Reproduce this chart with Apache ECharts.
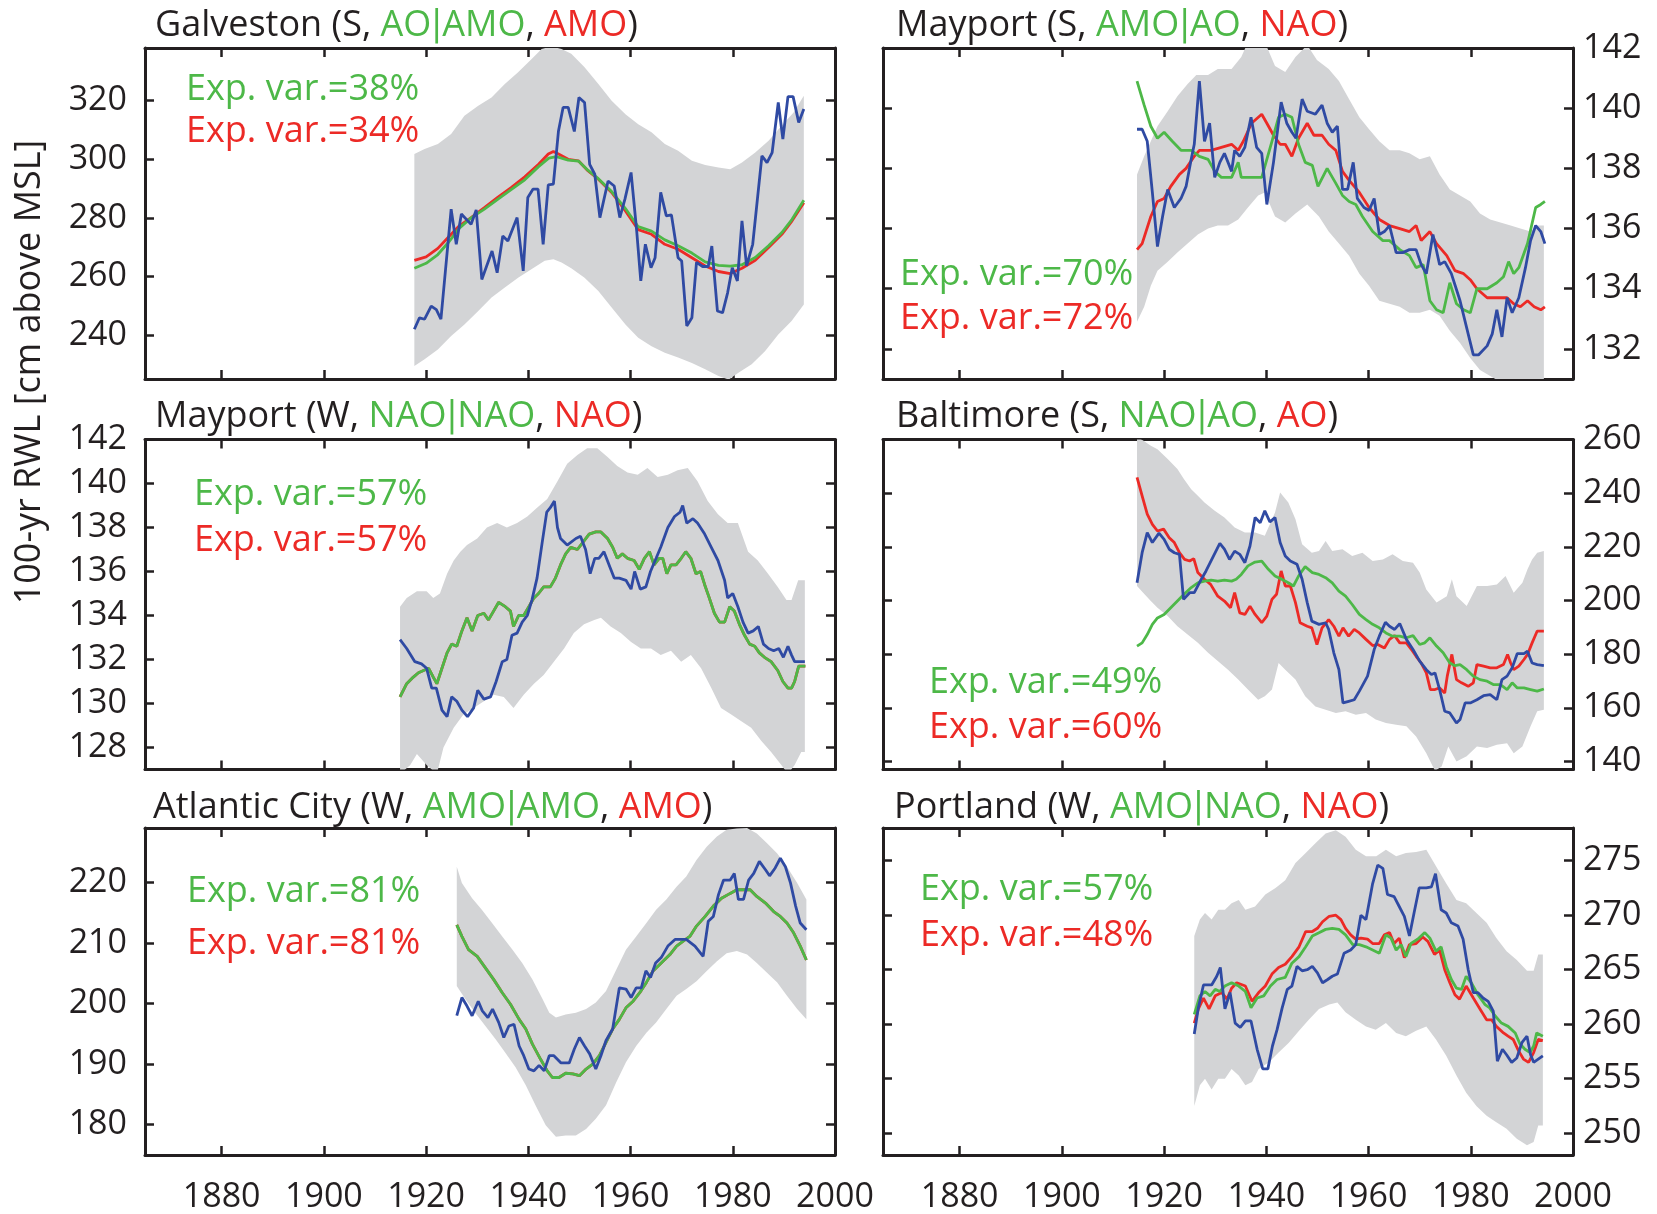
<!DOCTYPE html>
<html>
<head>
<meta charset="utf-8">
<script src="https://cdn.jsdelivr.net/npm/echarts@6/dist/echarts.min.js"></script>
<style>
  html, body { margin: 0; padding: 0; background: #ffffff; }
  #chart { width: 1657px; height: 1214px; }
</style>
</head>
<body>
<div id="chart"></div>
<script>
// ---------- shared axis ticks ----------
const yearTicks = [1880, 1900, 1920, 1940, 1960, 1980, 2000];
const galvTicks = [240, 260, 280, 300, 320];
const msTicks = [132, 134, 136, 138, 140, 142];
const mwTicks = [128, 130, 132, 134, 136, 138, 140, 142];
const baltTicks = [140, 160, 180, 200, 220, 240, 260];
const acTicks = [180, 190, 200, 210, 220];
const portTicks = [250, 255, 260, 265, 270, 275];

// ---------- Galveston (S) ----------
const galvObs = [[1917.7,242],[1918.7,245.9],[1919.7,245.4],[1921,249.9],[1922,248.7],[1922.9,245.4],[1924.9,283],[1925.9,271],[1926.9,281.3],[1928.8,277.8],[1929.8,282.7],[1930.9,259],[1932.9,268.7],[1933.9,261.3],[1935,273.8],[1936,272.1],[1937.8,280.1],[1939,261.9],[1939.9,287],[1940.9,289.8],[1941.9,289.8],[1942.9,271],[1943.9,291.3],[1944.9,291.5],[1945.9,309.7],[1946.8,317.7],[1947.8,317.7],[1949,309.5],[1949.9,321.1],[1951,319.4],[1952,298.3],[1953,294.9],[1954,280.1],[1955.6,292.6],[1956.8,290.9],[1957.9,280.1],[1958.9,286.4],[1960.1,295.5],[1961.2,275.6],[1962,258.5],[1962.9,271],[1964,263],[1964.8,266.4],[1965.9,288.7],[1967,280.7],[1968,281],[1969.3,266.4],[1970,265.3],[1971,243.1],[1972,245.9],[1972.9,264.8],[1974.1,263.4],[1975.2,263.4],[1975.9,270.4],[1977,248.2],[1978,247.6],[1979,254.5],[1979.9,263],[1980.9,258.5],[1981.8,279],[1982.7,263.6],[1983.9,271],[1985.7,301.2],[1986.7,298.9],[1987.7,302.3],[1988.9,319.4],[1989.8,306.9],[1990.8,321.4],[1991.8,321.4],[1992.9,312.6],[1993.9,317.2]];
const galvRed = [[1917.7,265.5],[1920,266.7],[1922.3,269.6],[1924.3,273.3],[1926.5,277.3],[1928.8,280.1],[1931.4,283.5],[1934,287],[1936.7,290.4],[1939.3,294],[1942,298.3],[1943.9,301.8],[1944.9,302.7],[1945.9,301.8],[1947.8,300],[1949.8,299.5],[1951.7,296],[1953.7,293.2],[1956.3,288.7],[1959,282.4],[1961.5,276],[1964.1,274.4],[1966.7,271],[1969.3,269.3],[1972,266.4],[1974.6,263.6],[1977.2,261.7],[1979.5,261],[1981.8,262.8],[1984.4,265.5],[1987,269.9],[1989.6,274.4],[1991.6,279],[1993.9,285.2]];
const galvGreen = [[1917.7,262.8],[1920,264.5],[1922.3,267.5],[1924.3,271.5],[1926.5,276.5],[1928.8,280],[1931.4,283],[1934,286.3],[1936.7,289.7],[1939.3,293],[1942,297.5],[1944,300.4],[1945.5,300.9],[1947.8,299.7],[1949.8,299.4],[1951.7,296.2],[1953.7,293.4],[1956.3,289],[1959,283.2],[1961.5,277],[1964.1,275.5],[1966.7,272.5],[1969.3,270.5],[1972,268],[1974.6,265],[1977.2,263.8],[1979.5,263.5],[1981.8,264],[1984.4,266.5],[1987,270.5],[1989.6,275],[1991.6,279.5],[1993.9,286]];
const galvUpper = [[1917.7,301.8],[1919.7,303.5],[1922.3,305.2],[1924.9,308.6],[1927.5,314.9],[1930.2,318.3],[1932.8,321.1],[1935.4,325.7],[1938,329.7],[1940.6,334.2],[1942.6,337.7],[1944.5,338.5],[1946.5,337.7],[1948.4,336],[1951,331.4],[1953.7,325.7],[1956.3,320],[1959,315.4],[1961.5,312],[1964.1,309.2],[1966.7,305.2],[1969.3,302.9],[1972,299.5],[1974.6,298.1],[1977.2,297.2],[1979.5,296.6],[1981.8,298.9],[1984.4,302.3],[1987,306.3],[1989.6,311.5],[1991.9,316],[1993.9,321.7]];
const galvLower = [[1917.7,229.4],[1919.7,231.7],[1922.3,235.1],[1924.9,239.7],[1927.5,243.6],[1930.2,248.2],[1932.8,252.8],[1935.4,256.2],[1938,259.6],[1940.6,262.5],[1943.2,265.4],[1944.9,265.9],[1946.5,264.8],[1948.4,262.8],[1951,259.6],[1953.7,255],[1956.3,249.4],[1959,243.6],[1961.5,239.1],[1964.1,236.2],[1966.7,234],[1969.3,232.3],[1972,230.5],[1974.6,228.3],[1977.2,226],[1979.2,224.8],[1981.1,227.1],[1983.7,230],[1986.3,234.5],[1988.9,240.2],[1991.5,244.8],[1993.9,250.4]];

// ---------- Mayport (S) ----------
const msObs = [[1914.7,139.3],[1915.7,139.3],[1916.7,138.9],[1917.7,137.2],[1918.7,135.4],[1919.7,136.4],[1920.7,137.3],[1922,136.7],[1923.3,137],[1924.3,137.4],[1925.3,138.3],[1925.9,138.8],[1926.9,140.9],[1927.9,138.9],[1928.9,139.5],[1929.9,137.7],[1930.9,138.2],[1931.8,138.5],[1933.2,137.9],[1933.8,138.6],[1934.8,138.4],[1935.8,138.7],[1937,139.7],[1938.1,138.7],[1939.1,138.5],[1940.1,136.8],[1941.4,138.2],[1942.9,140.2],[1944,139.5],[1945,139.2],[1945.8,139],[1947,140.3],[1948,139.9],[1949.6,139.8],[1950.9,140.1],[1951.9,139.5],[1952.9,139.2],[1953.9,139.4],[1954.9,137.3],[1955.9,137.3],[1957,138.2],[1957.8,137],[1959.1,136.7],[1960.1,136.6],[1961.1,137],[1962.1,135.8],[1963.1,135.9],[1964.1,136.1],[1965.4,135.2],[1966.7,135.2],[1968,135.3],[1969.3,135.3],[1970.3,134.8],[1971.3,134.5],[1972.6,135.8],[1973.9,134.8],[1974.9,134.9],[1976.2,134.5],[1977.9,133.6],[1979.2,132.7],[1980.5,131.8],[1981.5,131.8],[1983.2,132.1],[1984.2,132.5],[1985.1,133.3],[1986.1,132.4],[1987.1,133.7],[1988.1,133.2],[1989.4,133.7],[1990.7,134.7],[1991.7,135.6],[1992.7,136.1],[1993.7,135.9],[1994.5,135.5]];
const msRed = [[1914.7,135.3],[1915.7,135.5],[1917.4,136.4],[1918.7,136.9],[1920,137],[1921.3,137.4],[1923,137.8],[1924.3,138],[1925.9,138.4],[1926.9,138.6],[1929.2,138.6],[1931.2,138.7],[1933.2,138.8],[1934.5,138.6],[1935.5,138.9],[1937.1,139.5],[1939.1,139.8],[1940.1,139.5],[1941.4,139.1],[1942.7,138.8],[1943.7,138.8],[1945,138.4],[1946.3,139],[1948,139.5],[1949.3,139.1],[1950.9,139.1],[1952.2,138.8],[1953.6,138.6],[1954.9,137.9],[1956.2,137.6],[1958.2,137.2],[1960.1,136.7],[1962.1,136.3],[1964.1,136.1],[1966.1,136],[1968,135.9],[1969.3,136.1],[1970.3,135.6],[1972,135.9],[1973.3,135.5],[1975.3,135.1],[1976.9,134.6],[1978.6,134.5],[1979.9,134.3],[1981.2,134],[1983.2,133.7],[1985.1,133.7],[1987.1,133.7],[1988.4,133.5],[1989.7,133.4],[1991.1,133.6],[1992.4,133.4],[1993.7,133.3],[1994.5,133.4]];
const msGreen = [[1914.7,140.9],[1916.1,140.1],[1917.4,139.4],[1918.7,139],[1920,139.2],[1921.6,138.9],[1923.3,138.6],[1925.3,138.6],[1926.9,138.4],[1928.6,138.3],[1929.9,137.9],[1931.2,137.7],[1933.2,137.7],[1934.5,138.2],[1935.1,137.7],[1936.8,137.7],[1939.1,137.7],[1941.1,138.9],[1942.4,139.7],[1943.7,139.8],[1945,139.7],[1946.3,138.8],[1947.6,138.2],[1949,138.1],[1950.1,137.4],[1951.9,138],[1953.6,137.5],[1954.9,137.1],[1956.2,136.9],[1957.5,136.8],[1958.8,136.4],[1960.8,135.9],[1962.8,135.6],[1964.1,135.6],[1966.1,135.3],[1968,135.1],[1969.3,134.7],[1970.7,134.8],[1972,133.6],[1973.3,133.3],[1974.6,133.2],[1975.9,134.2],[1977.2,133.5],[1978.6,133.3],[1979.9,133.2],[1981.2,134],[1983.2,134],[1985.1,134.2],[1986.4,134.4],[1987.4,134.9],[1988.4,134.5],[1989.4,134.7],[1991.1,135.5],[1992.7,136.7],[1993.7,136.8],[1994.5,136.9]];
const msUpper = [[1914.7,137.8],[1916.1,138.4],[1917.4,138.9],[1918.7,139.4],[1920.7,139.9],[1922.6,140.4],[1924.6,140.8],[1926.3,141.1],[1928.6,141.1],[1930.5,141.3],[1933.2,141.3],[1935.1,141.7],[1936.4,142.2],[1939.7,142.2],[1941.7,141.4],[1943.7,141.2],[1945.7,141.7],[1948,142.1],[1949.9,141.6],[1952.2,141.3],[1954.2,140.9],[1956.2,140.3],[1958.2,139.7],[1960.1,139.3],[1962.1,138.9],[1964.1,138.6],[1966.1,138.6],[1968,138.5],[1970,138.3],[1972,138.4],[1973.9,137.8],[1975.9,137.3],[1977.9,137.1],[1979.9,136.9],[1981.8,136.5],[1983.8,136.3],[1985.8,136.2],[1987.8,136.1],[1989.7,136],[1991.7,135.9],[1993.1,136.1],[1994.3,136.1]];
const msLower = [[1914.7,132.9],[1916.1,133.4],[1917.4,134.1],[1918.7,134.6],[1920.7,134.9],[1922.6,135.2],[1924.6,135.5],[1926.6,135.8],[1928.6,136],[1930.5,136.1],[1932.5,136.1],[1934.5,136.3],[1936.4,136.7],[1938.4,137.1],[1939.7,137.2],[1941.7,136.4],[1943.7,136.2],[1945.7,136.5],[1948,136.8],[1950.3,136.4],[1952.2,135.9],[1954.2,135.5],[1956.2,135.1],[1958.2,134.5],[1960.1,134.1],[1962.1,133.6],[1964.1,133.5],[1966.1,133.4],[1968,133.2],[1970,133.2],[1972,133.3],[1973.9,133.1],[1975.9,132.6],[1977.9,132.2],[1979.9,131.7],[1981.8,131.3],[1983.8,131.1],[1985.8,130.9],[1987.8,130.8],[1991.1,130.8],[1994.3,130.8]];

// ---------- Mayport (W) ----------
const mwObs = [[1914.9,132.9],[1916.2,132.5],[1917.8,131.9],[1919.1,131.8],[1920.1,131.6],[1921.1,130.7],[1922,130.7],[1923.1,129.7],[1924.1,129.4],[1925,130.3],[1926,130.1],[1927,129.7],[1928.1,129.4],[1929.3,129.8],[1930.1,130.6],[1931.3,130.2],[1932.6,130.3],[1933.7,131],[1934.9,131.9],[1935.8,132],[1936.8,133.1],[1937.8,133.2],[1938.8,133.7],[1939.8,134],[1940.7,134.7],[1941.7,135.7],[1942.7,137.3],[1943.6,138.7],[1944.3,138.9],[1945.1,139.2],[1945.7,138],[1946.3,137.5],[1947.6,137.2],[1949.3,137.5],[1950.2,137.6],[1951.2,137],[1952.1,135.9],[1953,136.6],[1953.8,136.6],[1954.8,136.9],[1955.8,136.3],[1956.8,135.7],[1957.8,135.7],[1959.1,135.6],[1960.1,135.2],[1960.8,136],[1961.9,135.2],[1963,135.3],[1963.9,136],[1965,136.6],[1965.9,137.1],[1967.3,138],[1968.6,138.5],[1969.7,138.7],[1970.2,139],[1971,138.2],[1972.2,138.4],[1973.1,138.2],[1974.5,137.7],[1975.8,137.1],[1977.1,136.5],[1978.4,135.6],[1979,134.8],[1980,135],[1981,134.4],[1982,133.7],[1983,133.2],[1984,133.3],[1985,133.5],[1986,132.7],[1987,132.5],[1988,132.4],[1989,132.5],[1989.9,132.1],[1990.8,132.6],[1991.5,132.2],[1992.1,131.9],[1993.1,131.9],[1994.1,131.9]];
const mwModel = [[1914.9,130.3],[1916.2,130.9],[1917.5,131.2],[1918.5,131.4],[1919.5,131.5],[1920.5,131.6],[1921.4,131.2],[1922.1,130.9],[1923.1,131.6],[1924.1,132.3],[1925,132.7],[1926,132.6],[1927,133.3],[1928,133.9],[1929,133.3],[1930.1,134],[1931.3,134.1],[1932.2,133.8],[1933.2,134.2],[1934.2,134.6],[1935.5,134.4],[1936.5,134.2],[1937.1,133.5],[1938.1,134],[1939.1,134],[1940.1,134.4],[1941.1,134.8],[1942,135],[1943,135.3],[1944.3,135.3],[1945.3,135.7],[1946.3,136.3],[1947.3,136.8],[1948.3,137.1],[1949.6,137],[1950.6,137.3],[1951.9,137.7],[1953.2,137.8],[1954.2,137.8],[1955.5,137.5],[1956.5,137.1],[1957.4,136.6],[1958.4,136.8],[1959.4,136.6],[1960.7,136.5],[1961.7,136.1],[1962.7,136.6],[1963.7,136.9],[1964.6,136.3],[1965.6,136.6],[1966.3,136.6],[1967.1,135.9],[1967.9,136.3],[1968.9,136.3],[1969.9,136.6],[1970.8,136.9],[1971.8,136.6],[1972.8,135.9],[1973.7,136],[1974.5,135.4],[1975.4,134.8],[1976.4,134.1],[1977.4,133.7],[1978.4,133.7],[1979.4,134.4],[1980.3,134.2],[1981.3,133.6],[1982.3,133.1],[1983.3,132.7],[1984.3,132.6],[1985.2,132.3],[1986.2,132.1],[1987.5,131.9],[1988.8,131.5],[1989.8,131],[1990.8,130.7],[1991.5,130.7],[1992.1,131],[1992.9,131.7],[1993.8,131.7],[1994.2,131.7]];
const mwUpper = [[1914.9,134.4],[1916.2,134.8],[1918.2,135.1],[1920.1,135.1],[1921.4,134.8],[1922.7,135],[1924.1,135.9],[1925.4,136.5],[1926.7,136.9],[1928,137.2],[1930,137.5],[1931.9,138],[1933.9,138.2],[1935.8,138],[1937.8,138.2],[1939.8,138.5],[1941.7,138.9],[1943.7,139.3],[1945.7,140.1],[1947.6,140.9],[1949.6,141.3],[1951.5,141.6],[1953.5,141.6],[1955.5,141.2],[1957.4,140.8],[1959.4,140.5],[1961.4,140.4],[1963.3,140.7],[1965.3,140.3],[1967.3,140.4],[1969.2,140.6],[1971.2,140.7],[1973.1,140.1],[1975.1,139.2],[1977.1,138.6],[1979,138.2],[1981,138.2],[1983,136.9],[1984.9,136.5],[1986.9,135.9],[1988.8,135.3],[1990.5,134.7],[1991.5,134.7],[1992.8,135.6],[1994.1,135.6]];
const mwLower = [[1914.9,126.8],[1916.9,127.2],[1918.2,127.7],[1920.1,127.2],[1922.1,126.8],[1923.4,128],[1925.4,128.9],[1927.3,129.5],[1929.3,129.8],[1931.3,130.1],[1933.2,130.4],[1935.2,130.3],[1937.1,129.8],[1939.1,130.4],[1941.1,130.9],[1943,131.3],[1945,131.9],[1947,132.5],[1948.9,133.2],[1950.9,133.6],[1952.9,133.8],[1954.2,133.9],[1956.1,133.5],[1958.1,133.2],[1960.1,132.8],[1962,132.5],[1964,132.5],[1965.9,132.2],[1967.9,132.4],[1969.9,131.9],[1971.8,132.2],[1973.8,131.6],[1975.8,130.7],[1977.7,129.8],[1979.7,129.5],[1981.6,129.2],[1983.6,128.9],[1985.6,128.3],[1987.5,127.8],[1989.5,127.2],[1990.8,126.8],[1992.1,127.2],[1993.4,127.8],[1994.1,127.8]];

// ---------- Baltimore (S) ----------
const baltObs = [[1914.7,206.6],[1915.7,217.8],[1916.7,225.3],[1917.7,221.6],[1919,225.1],[1920,222.8],[1921,219.1],[1922,217.8],[1923,217.2],[1923.8,200.4],[1925,202.9],[1925.9,202.9],[1926.9,206.6],[1928.2,211],[1929.5,216],[1930.9,221.3],[1931.8,219.1],[1932.8,215.3],[1933.8,218.4],[1934.8,217.2],[1935.8,214.1],[1936.8,220.3],[1937.8,230.9],[1938.8,229],[1939.7,233.4],[1940.7,229.3],[1941.7,230.9],[1942.7,221.6],[1943.7,216.6],[1944.7,214.7],[1946,213.5],[1947,207.9],[1948,199.2],[1948.9,192.3],[1950.3,191.1],[1951.6,191.7],[1952.2,189.2],[1953.2,180.5],[1954.2,174.2],[1955,161.8],[1956.1,162.4],[1957.2,163],[1958.2,166.2],[1959.8,171.8],[1961.1,181.7],[1962.1,186.7],[1963.3,191.9],[1964.1,190.4],[1965.1,189.2],[1966.1,191.4],[1967.4,185.5],[1968.7,181.7],[1970,177.4],[1971.3,174.2],[1972.3,172.4],[1973,173],[1973.9,166.8],[1974.9,158.7],[1975.9,158.1],[1977.2,154.3],[1977.9,155.6],[1978.9,161.8],[1979.9,161.8],[1981.2,163],[1982.5,164.5],[1983.8,164.9],[1985.1,163],[1986.1,170.5],[1987.1,171.8],[1988.1,174.9],[1989.1,180.2],[1990.4,180.2],[1991.1,181.1],[1992,176.7],[1993,176.1],[1994.3,175.7]];
const baltRed = [[1914.7,245.9],[1915.7,239],[1916.7,232.2],[1917.7,228.4],[1918.7,225.9],[1919.9,226.6],[1921,223.4],[1922,221.6],[1923,217.8],[1924,215.3],[1925,214.7],[1925.8,215.6],[1926.6,210.4],[1927.9,207.9],[1929.1,206],[1930.5,201.6],[1931.8,199.8],[1933,197.3],[1933.8,202.9],[1934.8,195.4],[1935.8,194.8],[1936.8,197.9],[1937.8,194.8],[1939.1,191.7],[1940.1,194.2],[1941.1,200.4],[1942,202.3],[1942.9,211],[1943.7,205.4],[1944.7,205.4],[1945.7,199.2],[1946.6,191.7],[1948,190.4],[1948.9,189.8],[1949.9,183.6],[1950.9,189.8],[1952.2,192.9],[1953.2,190.4],[1954.2,186.7],[1955,189.8],[1956.1,186.7],[1957.2,189.2],[1958.2,187.9],[1959.5,185.5],[1960.8,183.2],[1961.8,183.6],[1963.1,182.3],[1964.1,185.5],[1965.1,186.9],[1966.1,184.2],[1967.4,184.2],[1968.4,181.7],[1969.3,179.2],[1970.3,176.7],[1971.3,173],[1972.1,166.8],[1973,166.8],[1973.9,167.4],[1974.9,165.5],[1975.4,171.8],[1976.3,179.9],[1977.2,170.5],[1978.2,169.3],[1979.5,168],[1980.5,169.3],[1981.2,176.1],[1982.5,175.5],[1983.8,174.9],[1985.1,174.9],[1986.4,176.1],[1987.2,179.9],[1987.8,176.7],[1988.4,174.2],[1989.4,175.5],[1990.4,178],[1991.1,179.9],[1992,184.2],[1993,188.6],[1994.3,188.6]];
const baltGreen = [[1914.7,183],[1915.7,184.2],[1916.7,187.3],[1917.7,191.1],[1918.7,193.5],[1920,194.8],[1921.3,197.3],[1922.6,199.8],[1923.9,202.3],[1925.3,204.8],[1926.6,206.6],[1927.9,207.2],[1929.2,207.6],[1930.5,207.2],[1931.8,207.6],[1933.2,207.2],[1934.1,207.9],[1935.1,209.7],[1936.4,212.9],[1937.8,214.3],[1939.1,214.7],[1940.4,211.6],[1941.7,209.1],[1943,207.9],[1944.3,206.6],[1945.3,205.4],[1946.3,209.1],[1947.6,212.6],[1949,210.4],[1950.3,209.7],[1951.6,208.5],[1952.9,206.6],[1954.2,203.5],[1955.5,201.6],[1956.8,198.5],[1958.2,194.8],[1959.5,192.9],[1960.8,191.1],[1962.1,189.8],[1963.4,187.9],[1964.7,186.7],[1966.1,186.7],[1967.4,186.1],[1968.7,186.9],[1970,183.6],[1971,184.2],[1972,186.1],[1973.3,183],[1974.6,180.5],[1975.9,176.7],[1976.9,175.7],[1977.9,176.1],[1979.2,174.2],[1980.5,171.8],[1981.8,170.5],[1983.2,169.9],[1984.5,168.6],[1985.8,168.6],[1987.1,166.8],[1988.1,169.3],[1989.1,167.4],[1990.4,167.4],[1991.7,166.8],[1993,166.2],[1994.3,167]];
const baltUpper = [[1914.7,261],[1915.9,259.6],[1917.4,257.7],[1918.7,256.4],[1920.7,252.7],[1922.6,249],[1923.9,245.2],[1925.3,241.5],[1926.6,239],[1927.9,236.5],[1929.9,233.4],[1931.8,230.9],[1933.8,227.2],[1935.8,225.3],[1937.8,225.3],[1939.7,224.1],[1941.7,232.8],[1942.7,240.2],[1944.3,236.5],[1945.7,230.3],[1947,221],[1948.9,217.8],[1950.3,218.4],[1951.6,222.2],[1952.9,218.4],[1954.9,219.1],[1956.8,216.6],[1958.8,217.8],[1960.8,214.7],[1962.8,215.3],[1964.7,217.2],[1966.7,214.7],[1968.7,214.1],[1970,210.4],[1971.3,204.1],[1973.3,199.2],[1975.3,201.6],[1976.3,207.9],[1977.2,201.6],[1979.2,197.9],[1981.2,205.4],[1983.2,205.4],[1985.1,206],[1986.8,209.1],[1988.4,202.9],[1990.1,206.6],[1991.1,211.6],[1992,215.3],[1993,217.8],[1994.3,218.4]];
const baltLower = [[1914.7,205.4],[1915.9,202.9],[1917.4,199.8],[1918.7,197.3],[1920.7,194.2],[1922.6,190.4],[1924.6,187.3],[1926.6,184.2],[1928.6,180.5],[1930.5,177.4],[1932.5,174.2],[1934.5,170.5],[1936.4,166.8],[1938.4,163],[1939.7,164.3],[1941.1,166.8],[1942.4,176.7],[1943.7,174.2],[1945.7,170.5],[1947.6,164.3],[1949.6,160.5],[1951.6,159.3],[1953.6,158.1],[1955.5,158.7],[1957.5,157.4],[1959.5,158.1],[1961.4,155.6],[1963.4,154.3],[1965.4,153.7],[1967.4,153.1],[1969.3,149.3],[1971.3,143.1],[1973,136.5],[1974.3,138.1],[1975.6,145.6],[1977.2,140],[1979.2,141.9],[1981.2,145.6],[1983.2,145],[1985.1,146.2],[1987.1,146.8],[1988.4,143.1],[1990.1,145.6],[1991.7,153.1],[1993,158.7],[1994.3,159.3]];

// ---------- Atlantic City (W) ----------
const acObs = [[1926,198],[1927,201],[1928,199.6],[1929,198],[1930.2,200.4],[1931,198.8],[1932.1,197.7],[1933,199.1],[1934.2,196.9],[1935.2,194.4],[1936.2,196.3],[1937.2,196.6],[1938.2,193],[1939.1,191.4],[1940.1,189.2],[1941.1,188.9],[1942.1,189.8],[1943.1,188.9],[1944.1,191.4],[1945,191.4],[1946.4,190.2],[1948,190.2],[1949,192.5],[1950,194.4],[1951,193],[1952,191.7],[1953.2,189.2],[1954.2,191.4],[1955.2,193.9],[1956.5,195.8],[1957.8,202.6],[1959.1,202.4],[1960.1,201],[1961.1,202.6],[1962.1,202.6],[1963,205.4],[1963.9,204.3],[1964.9,206.7],[1966,207.6],[1967.3,209.5],[1968.7,210.6],[1970.9,210.6],[1972.6,209.5],[1974.2,207.8],[1975.2,213.6],[1976.2,214.4],[1977.2,218],[1978.2,220.4],[1979.5,220.4],[1980.3,221.5],[1981.1,217.2],[1982.1,217.2],[1983.1,220.4],[1984.1,221.5],[1985.2,223.5],[1986.4,222.1],[1987.2,221.1],[1988.3,222.4],[1989.3,224],[1990.3,222.6],[1991.3,219.9],[1992.3,216.1],[1993.2,213.3],[1994.4,212.2]];
const acModel = [[1926,213],[1927,211.1],[1928.3,208.9],[1930,207.8],[1931.6,205.9],[1933.2,204],[1934.9,201.8],[1936.5,199.9],[1938.2,197.4],[1939.5,195.8],[1940.8,193.3],[1942.4,190.8],[1943.7,188.9],[1944.7,187.8],[1946,187.8],[1947.3,188.5],[1948.7,188.4],[1950,188.1],[1951.3,189.2],[1952.6,190],[1953.9,191.4],[1955.2,193.6],[1956.5,195.8],[1957.8,197.4],[1959.1,199.3],[1960.5,200.4],[1961.8,201.8],[1963.1,203.5],[1964.4,205.4],[1966,206.7],[1967.7,208.1],[1969,209.5],[1970.3,210.3],[1971.6,211.1],[1972.9,212.8],[1974.6,214.4],[1976.2,216.1],[1977.8,217.4],[1979.5,218.2],[1980.8,218.8],[1982.1,218.8],[1983.4,218.8],[1984.7,217.7],[1986.4,216.6],[1988,215.2],[1989.3,214.4],[1990.6,213.3],[1991.9,211.7],[1993.2,209.5],[1994.4,207.2]];
const acUpper = [[1926,222.6],[1927,219.9],[1929,217.4],[1930.9,215.5],[1932.9,213.3],[1934.9,211.1],[1936.9,208.9],[1938.8,206.7],[1940.8,204],[1942.8,200.7],[1944.1,198.5],[1945.4,197.7],[1947.3,198.2],[1949.3,198.5],[1951.3,199.1],[1953.2,200.2],[1955.2,202.1],[1957.2,205.6],[1959.1,208.9],[1961.1,211.1],[1963.1,213.3],[1965,215.5],[1967,217.2],[1969,219.3],[1970.9,221],[1972.9,223.7],[1974.9,225.9],[1976.9,227.6],[1978.8,228.7],[1980.8,228.9],[1982.8,229],[1984.7,228.1],[1986.7,226.5],[1988.7,224.8],[1990.6,222.6],[1992.6,219.9],[1994.4,217.2]];
const acLower = [[1926,202.9],[1927.7,200.7],[1929.6,198.5],[1931.6,196.3],[1933.6,194.1],[1935.5,191.9],[1937.5,189.5],[1939.5,186.5],[1941.4,183.2],[1943.4,179.9],[1945.4,178],[1947.3,178.2],[1949.3,178.2],[1951.3,179.3],[1953.2,181],[1955.2,183.2],[1957.2,187],[1959.1,190.3],[1961.1,193],[1963.1,195.2],[1965,196.9],[1967,199.1],[1969,201.3],[1970.9,202.4],[1972.9,203.7],[1974.9,205.4],[1976.9,207],[1978.8,208.3],[1980.8,208.7],[1982.8,208.1],[1984.7,206.7],[1986.7,205.1],[1988.7,203.5],[1990.6,201.3],[1992.6,199.1],[1994.4,197.4]];

// ---------- Portland (W) ----------
const portObs = [[1925.9,259.1],[1926.7,261.5],[1927.7,263.6],[1929.3,263.6],[1930.3,264.4],[1931,265.2],[1931.9,261.4],[1932.9,262.9],[1933.9,260.1],[1934.9,259.7],[1935.9,260.3],[1937,260.3],[1938.2,257.7],[1939.3,255.9],[1940.3,255.9],[1941.2,258],[1942.1,259.5],[1943.1,261.5],[1944.1,263.2],[1945,263.5],[1946,265.3],[1947,264.9],[1948,265],[1949,265.3],[1950,264.7],[1951,263.8],[1952,264.1],[1952.9,264.4],[1953.9,264.6],[1955.2,266.5],[1956.5,266.8],[1957.5,267.3],[1958.5,270],[1959.5,269.6],[1960.8,272.9],[1961.8,274.6],[1962.8,274.3],[1963.7,271.9],[1965,271.7],[1966,270.8],[1967,269.9],[1968,268.1],[1968.9,270.2],[1969.9,272.5],[1971.3,272.5],[1972.3,272.6],[1973.1,273.8],[1974.2,270.5],[1975.2,270.2],[1976.2,269.3],[1977.5,269],[1978.5,267.8],[1979.5,265],[1980.5,262.9],[1981.4,262.9],[1982.4,262.4],[1983.4,262.1],[1984.4,261.2],[1985.2,256.6],[1986.2,257.7],[1987,257.2],[1988,256.5],[1989,256.9],[1990,258.3],[1991,258.9],[1991.7,257.2],[1992.3,256.5],[1993.2,256.8],[1994.1,257.1]];
const portRed = [[1925.9,260.1],[1926.7,261.4],[1927.7,262.4],[1928.8,261.4],[1930,262.6],[1931.3,262.9],[1932.3,262.3],[1933.2,263.3],[1934.2,263.8],[1935.9,263.5],[1937.2,262.1],[1938.5,262.9],[1939.8,263.5],[1941.1,264.6],[1942.4,265.2],[1943.7,265.5],[1945,266.2],[1946.4,267.1],[1947.7,268.5],[1949,268.5],[1950,268.8],[1951,269.4],[1952.3,269.9],[1953.6,270],[1954.6,269.6],[1955.5,268.8],[1956.5,268.2],[1957.5,267.8],[1958.5,267.9],[1959.8,267.8],[1960.8,267.4],[1962.1,267.4],[1963.1,268.2],[1964.1,268.4],[1965,267.4],[1966,267.9],[1967,266.1],[1968,267.3],[1969.3,267.4],[1970.6,268],[1971.6,267.6],[1972.9,266.4],[1973.9,266.8],[1974.9,265],[1975.9,263.8],[1976.9,262.7],[1977.8,262.3],[1979.1,263.5],[1980.5,262.4],[1981.8,261.4],[1983.1,260.4],[1984.1,260.4],[1985,259.8],[1986.4,259.2],[1987.3,258.9],[1988.3,258.6],[1989.3,257.6],[1990.3,256.8],[1991.3,256.5],[1992.3,257.4],[1993.2,258.6],[1994.1,258.5]];
const portGreen = [[1925.9,260.9],[1927,262.6],[1928,263],[1929,262.6],[1930,263.2],[1930.9,263],[1931.9,263.5],[1933.2,263.8],[1934.6,263.5],[1935.9,263],[1937,261.5],[1938.2,262.4],[1939.5,262.6],[1940.8,263.5],[1942.1,264.1],[1943.7,264.3],[1945,265.6],[1946.4,266.2],[1947.7,267.1],[1949,268.1],[1950.3,268.4],[1951.6,268.7],[1952.9,268.8],[1954.2,268.7],[1955.5,268.2],[1956.9,267.3],[1958.2,267.3],[1959.5,267.1],[1960.8,266.8],[1962.1,266.5],[1963.4,268.2],[1964.4,267.9],[1965.4,266.8],[1966.4,267.3],[1967.3,266.2],[1968.3,267.4],[1969.6,267.8],[1971,268.4],[1972,267.9],[1973.2,266.7],[1974.2,267.1],[1975.2,265.3],[1976.2,264.1],[1977.2,263.3],[1978.2,263.2],[1979.1,264.4],[1980.1,263.8],[1981.4,262.7],[1982.8,261.8],[1983.7,261.5],[1984.7,260.8],[1986,260.1],[1987.3,259.8],[1988.7,259.2],[1989.6,258.2],[1990.6,257.7],[1991.6,257.4],[1992.3,258],[1992.9,259.2],[1994.1,258.9]];
const portUpper = [[1925.9,268.1],[1927,269.6],[1928,270.2],[1929.3,269.6],[1930.6,270.5],[1931.9,270.5],[1933.2,271.1],[1934.6,271.4],[1935.9,270.5],[1937.8,270.8],[1939.8,271.9],[1941.8,272.5],[1943.7,273.2],[1945.7,274.8],[1947.7,275.7],[1949.6,276.6],[1951.6,277.5],[1953.6,277.8],[1955.5,277.2],[1957.5,276],[1959.5,275.4],[1961.5,275.4],[1963.4,276],[1965.4,275.4],[1967.3,275.7],[1969.3,275.8],[1971.3,276],[1973.2,274.5],[1975.2,272.9],[1977.2,271.4],[1979.1,271.1],[1981.1,270.2],[1983.1,269.3],[1985,267.9],[1987,266.7],[1989,265.9],[1991,264.9],[1992.3,264.9],[1993.2,266.4],[1994.1,266.4]];
const portLower = [[1925.9,252.5],[1927,254.4],[1928,255],[1929.3,254],[1930.6,255],[1931.9,255],[1933.2,255.9],[1934.6,255.3],[1935.9,254.4],[1937.2,254.7],[1938.5,255.9],[1940.5,256.5],[1942.4,257.4],[1944.4,258.3],[1946.4,259.4],[1948.3,260.4],[1950.3,261.4],[1952.3,261.8],[1953.9,262],[1955.5,261.1],[1957.5,260.4],[1959.5,259.8],[1961.4,259.5],[1963.4,260.1],[1965.4,259.2],[1967.3,258.9],[1969.3,259.4],[1971.3,259.8],[1973.2,258.6],[1975.2,257.1],[1977.2,255.3],[1979.1,253.7],[1981.1,252.5],[1983.1,251.6],[1985,251],[1987,250.4],[1989,249.5],[1991,248.9],[1992.3,249.2],[1993.2,250.7],[1994.1,250.7]];

// ---------- panel text ----------
const panelTitles = [
  [['Galveston (S, ', 'k'], ['AO', 'g'], ['|', 'b'], ['AMO', 'g'], [', ', 'k'], ['AMO', 'r'], [')', 'k']],
  [['Mayport (S, ', 'k'], ['AMO', 'g'], ['|', 'b'], ['AO', 'g'], [', ', 'k'], ['NAO', 'r'], [')', 'k']],
  [['Mayport (W, ', 'k'], ['NAO', 'g'], ['|', 'b'], ['NAO', 'g'], [', ', 'k'], ['NAO', 'r'], [')', 'k']],
  [['Baltimore (S, ', 'k'], ['NAO', 'g'], ['|', 'b'], ['AO', 'g'], [', ', 'k'], ['AO', 'r'], [')', 'k']],
  [['Atlantic City (W, ', 'k'], ['AMO', 'g'], ['|', 'b'], ['AMO', 'g'], [', ', 'k'], ['AMO', 'r'], [')', 'k']],
  [['Portland (W, ', 'k'], ['AMO', 'g'], ['|', 'b'], ['NAO', 'g'], [', ', 'k'], ['NAO', 'r'], [')', 'k']]
];
const expVarGreen = ['38%', '70%', '57%', '49%', '81%', '57%'];
const expVarRed = ['34%', '72%', '57%', '60%', '81%', '48%'];
const yAxisTitle = '100-yr RWL [cm above MSL]';

// ---------- styling & layout ----------
const INK = '#231f20';
const GREEN = '#4db848';
const RED = '#ec2a26';
const BLUE = '#2f4aa3';
const BAND = '#d3d4d6';
const FONT = '"Open Sans", "Noto Sans", sans-serif';
const TICK_FS = 34;
const TEXT_FS = 36;

const COL_LEFT = [145, 883];
const PANEL_W = 690;
const ROWS = [{ top: 48, h: 331 }, { top: 439.5, h: 330 }, { top: 828, h: 329.5 }];

const panels = [
  { col: 0, row: 0, yMin: 225, yMax: 338, ticks: galvTicks, obs: galvObs, red: galvRed, green: galvGreen, up: galvUpper, lo: galvLower,
    title: [155, 26], exp: [41, 42, 84] },
  { col: 1, row: 0, yMin: 131, yMax: 142, ticks: msTicks, obs: msObs, red: msRed, green: msGreen, up: msUpper, lo: msLower,
    title: [896, 26], exp: [17, 227, 271] },
  { col: 0, row: 1, yMin: 127, yMax: 142, ticks: mwTicks, obs: mwObs, red: mwModel, green: mwModel, up: mwUpper, lo: mwLower,
    title: [155, 417], exp: [49, 55, 101] },
  { col: 1, row: 1, yMin: 137, yMax: 260, ticks: baltTicks, obs: baltObs, red: baltRed, green: baltGreen, up: baltUpper, lo: baltLower,
    title: [896, 417], exp: [46, 243, 288] },
  { col: 0, row: 2, yMin: 175, yMax: 229, ticks: acTicks, obs: acObs, red: acModel, green: acModel, up: acUpper, lo: acLower,
    title: [153, 808], exp: [42, 64, 116] },
  { col: 1, row: 2, yMin: 248, yMax: 278, ticks: portTicks, obs: portObs, red: portRed, green: portGreen, up: portUpper, lo: portLower,
    title: [894, 808], exp: [37, 62, 108] }
];

const frameLine = { onZero: false, lineStyle: { color: INK, width: 3 } };
const innerTick = (values) => ({ inside: true, length: 9, customValues: values, lineStyle: { color: INK, width: 2.5 } });
const plain = (v) => String(v);

const grid = [], xAxis = [], yAxis = [], series = [], graphic = [];

panels.forEach((p, i) => {
  const left = COL_LEFT[p.col];
  const row = ROWS[p.row];
  grid.push({ left: left, top: row.top, width: PANEL_W, height: row.h, containLabel: false });

  // bottom (labelled on last row) and top frame edges
  xAxis.push({
    gridIndex: i, type: 'value', min: 1865, max: 2000, position: 'bottom',
    axisLine: frameLine, axisTick: innerTick(yearTicks), splitLine: { show: false },
    axisLabel: {
      show: p.row === 2, customValues: yearTicks, margin: 25, formatter: plain,
      fontSize: TICK_FS, fontFamily: FONT, color: INK
    }
  });
  xAxis.push({
    gridIndex: i, type: 'value', min: 1865, max: 2000, position: 'top',
    axisLine: frameLine, axisTick: innerTick(yearTicks), splitLine: { show: false },
    axisLabel: { show: false }
  });

  // labelled side is the outer side of each column
  const labelSide = p.col === 0 ? 'left' : 'right';
  const otherSide = p.col === 0 ? 'right' : 'left';
  yAxis.push({
    gridIndex: i, type: 'value', min: p.yMin, max: p.yMax, position: labelSide,
    axisLine: frameLine, axisTick: innerTick(p.ticks), splitLine: { show: false },
    axisLabel: {
      customValues: p.ticks, margin: p.col === 0 ? 18 : 10, formatter: plain,
      fontSize: TICK_FS, fontFamily: FONT, color: INK
    }
  });
  yAxis.push({
    gridIndex: i, type: 'value', min: p.yMin, max: p.yMax, position: otherSide,
    axisLine: frameLine, axisTick: innerTick(p.ticks), splitLine: { show: false },
    axisLabel: { show: false }
  });

  const xi = 2 * i, yi = 2 * i;

  // uncertainty envelope
  series.push({
    type: 'custom', xAxisIndex: xi, yAxisIndex: yi, clip: true, silent: true, z: 1,
    data: [0],
    renderItem: (params, api) => {
      const pts = p.up.map(d => api.coord(d))
        .concat(p.lo.slice().reverse().map(d => api.coord(d)));
      return { type: 'polygon', shape: { points: pts }, style: { fill: BAND } };
    }
  });

  const line = (data, color, z) => ({
    type: 'line', xAxisIndex: xi, yAxisIndex: yi, data: data, z: z,
    showSymbol: false, symbol: 'none', silent: true, clip: true,
    lineStyle: { color: color, width: 2.8 }
  });
  series.push(line(p.red, RED, 3));
  series.push(line(p.green, GREEN, 4));
  series.push(line(p.obs, BLUE, 5));

  // panel title; the separator bar is drawn narrow and tall
  const richText = panelTitles[i].map(([t, s]) => '{' + s + '|' + t + '}').join('');
  graphic.push({
    type: 'text', x: p.title[0], y: p.title[1], z: 10,
    style: {
      text: richText, verticalAlign: 'middle', align: 'left',
      rich: {
        k: { fill: INK, fontSize: TEXT_FS, fontFamily: FONT },
        g: { fill: GREEN, fontSize: TEXT_FS, fontFamily: FONT },
        r: { fill: RED, fontSize: TEXT_FS, fontFamily: FONT },
        b: { fill: GREEN, fontSize: TEXT_FS, fontFamily: '"DejaVu Sans Condensed", "DejaVu Sans", sans-serif', fontWeight: 'lighter' }
      }
    }
  });

  // explained variance notes
  graphic.push({
    type: 'text', x: left + p.exp[0], y: row.top + p.exp[1], z: 10,
    style: { text: 'Exp. var.=' + expVarGreen[i], fill: GREEN, fontSize: TEXT_FS, fontFamily: FONT, verticalAlign: 'middle' }
  });
  graphic.push({
    type: 'text', x: left + p.exp[0], y: row.top + p.exp[2], z: 10,
    style: { text: 'Exp. var.=' + expVarRed[i], fill: RED, fontSize: TEXT_FS, fontFamily: FONT, verticalAlign: 'middle' }
  });
});

// shared y-axis title
graphic.push({
  type: 'text', x: 30, y: 372, rotation: Math.PI / 2, z: 10,
  style: { text: yAxisTitle, fill: INK, fontSize: TEXT_FS, fontFamily: FONT, align: 'center', verticalAlign: 'middle' }
});

const chart = echarts.init(document.getElementById('chart'), null, { renderer: 'canvas' });
chart.setOption({
  backgroundColor: '#ffffff',
  animation: false,
  grid: grid,
  xAxis: xAxis,
  yAxis: yAxis,
  series: series,
  graphic: graphic
});
</script>
</body>
</html>
